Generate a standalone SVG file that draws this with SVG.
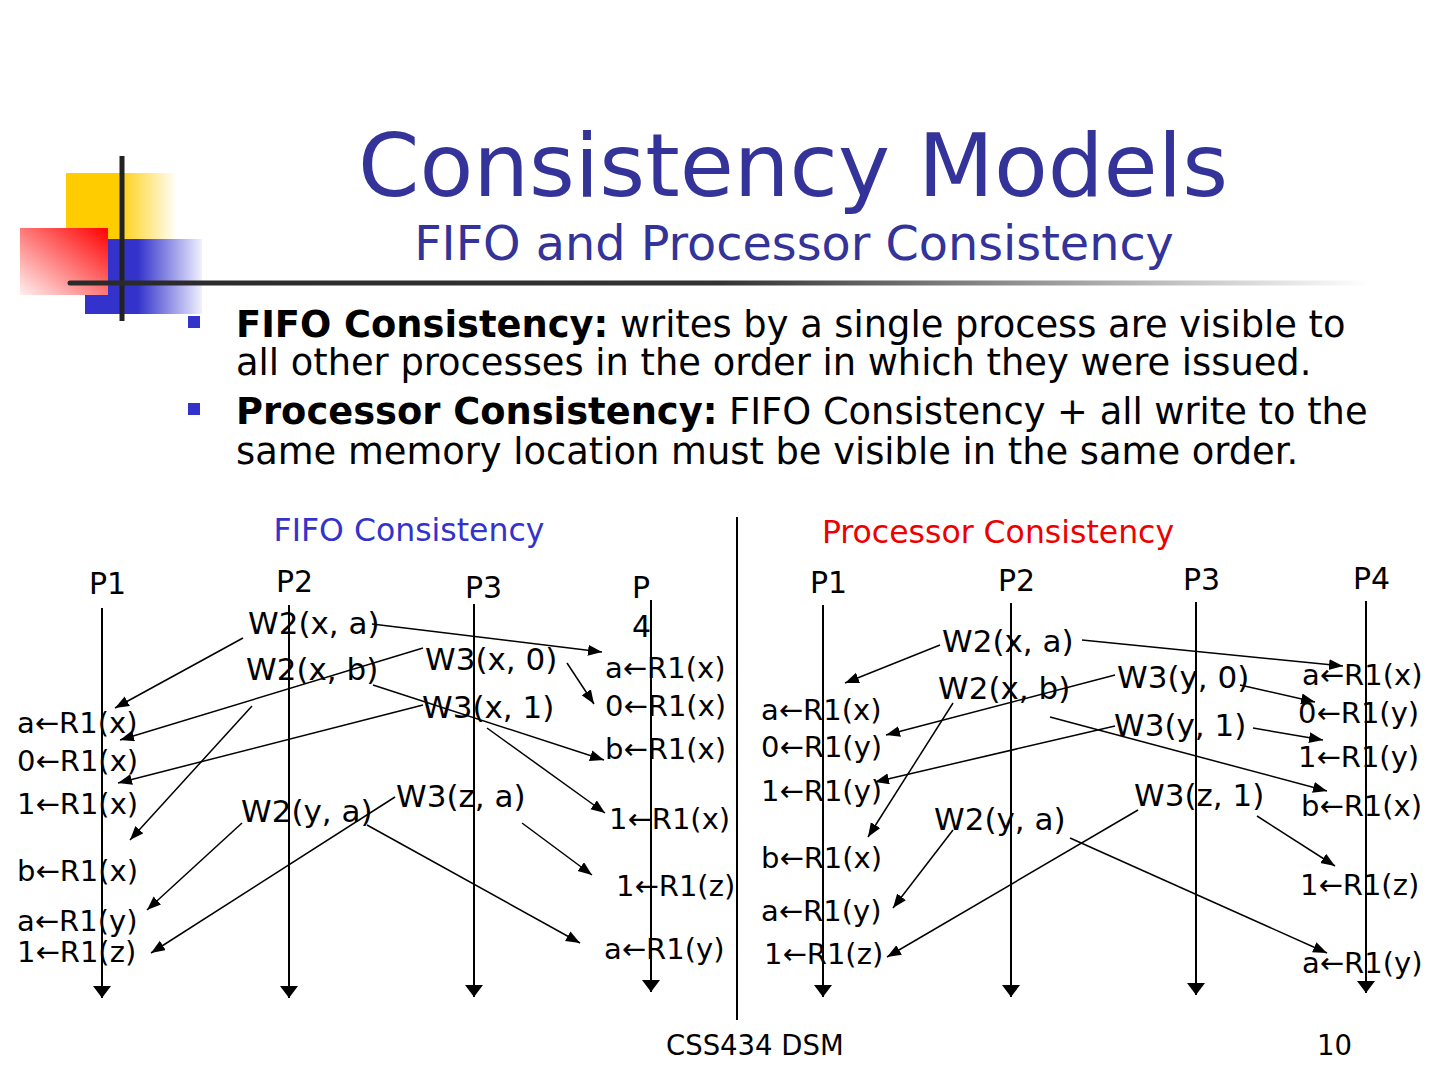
<svg xmlns="http://www.w3.org/2000/svg" width="1440" height="1080" viewBox="0 0 1440 1080">
<style>
text{font-family:"DejaVu Sans","Liberation Sans",sans-serif;fill:#000}
.ttl{fill:#333399}
.b{font-size:36.8px}
.bb{font-weight:bold}
.p{font-size:30px}
.w{font-size:31px}
.r{font-size:29px}
.conn line{stroke:#000;stroke-width:1.5;marker-end:url(#ah)}
.proc line{stroke:#000;stroke-width:2;marker-end:url(#ph)}
</style>
<defs>
<marker id="ah" markerUnits="userSpaceOnUse" markerWidth="16" markerHeight="12" refX="14" refY="5.5" orient="auto"><path d="M0,0 L14,5.5 L0,11 z" fill="#000"/></marker>
<marker id="ph" markerUnits="userSpaceOnUse" markerWidth="20" markerHeight="20" refX="12" refY="9" orient="auto"><path d="M0,0 L12,9 L0,18 z" fill="#000"/></marker>
<linearGradient id="gy" x1="0" y1="0" x2="1" y2="0"><stop offset="0" stop-color="#FFCC00"/><stop offset="0.45" stop-color="#FFCC00"/><stop offset="1" stop-color="#FFFFFF"/></linearGradient>
<linearGradient id="gr" x1="0" y1="1" x2="1" y2="0"><stop offset="0" stop-color="#FFF0F0"/><stop offset="1" stop-color="#FF0000"/></linearGradient>
<linearGradient id="gb" x1="0" y1="0" x2="1" y2="0"><stop offset="0" stop-color="#3333CC"/><stop offset="0.45" stop-color="#3333CC"/><stop offset="1" stop-color="#F0F0FF"/></linearGradient>
<linearGradient id="gl" x1="70" y1="0" x2="1370" y2="0" gradientUnits="userSpaceOnUse"><stop offset="0" stop-color="#2a2a2a"/><stop offset="0.5" stop-color="#333"/><stop offset="1" stop-color="#333" stop-opacity="0"/></linearGradient>
</defs>

<g id="logo">
<rect x="66" y="173" width="111" height="67" fill="url(#gy)"/>
<rect x="85" y="239" width="117" height="75" fill="url(#gb)"/>
<rect x="20" y="228" width="88" height="67" fill="url(#gr)"/>
<line x1="122" y1="156" x2="122" y2="321" stroke="#222" stroke-width="5"/>
<line x1="70" y1="283" x2="1370" y2="283" stroke="url(#gl)" stroke-width="5" stroke-linecap="round"/>
</g>

<g id="title">
<text class="ttl" x="793" y="196" font-size="88" text-anchor="middle">Consistency Models</text>
<text class="ttl" x="794" y="260" font-size="47.7" text-anchor="middle">FIFO and Processor Consistency</text>
</g>

<g id="bullets">
<rect x="188" y="316" width="12" height="12" fill="#3333CC"/>
<rect x="188" y="403" width="12" height="12" fill="#3333CC"/>
<text class="b" x="236" y="337"><tspan class="bb">FIFO Consistency:</tspan> writes by a single process are visible to</text>
<text class="b" x="236" y="375">all other processes in the order in which they were issued.</text>
<text class="b" x="236" y="424"><tspan class="bb">Processor Consistency:</tspan> FIFO Consistency + all write to the</text>
<text class="b" x="236" y="464">same memory location must be visible in the same order.</text>
</g>

<g id="headings">
<text x="409" y="541" font-size="31.5" style="fill:#3333CC" text-anchor="middle">FIFO Consistency</text>
<text x="998" y="543" font-size="31.5" style="fill:#EE0000" text-anchor="middle">Processor Consistency</text>
<line x1="737" y1="517" x2="737" y2="1020" stroke="#000" stroke-width="2"/>
</g>

<g id="fifo-processes" class="proc">
<text class="p" x="89" y="594">P1</text>
<text class="p" x="276" y="592">P2</text>
<text class="p" x="465" y="598">P3</text>
<text class="p" x="632" y="598">P</text>
<text class="p" x="632" y="637">4</text>
<line x1="102" y1="608" x2="102" y2="998"/>
<line x1="289" y1="605" x2="289" y2="998"/>
<line x1="474" y1="604" x2="474" y2="997"/>
<line x1="651" y1="600" x2="651" y2="992"/>
</g>

<g id="fifo-ops">
<text class="w" x="248" y="634">W2(x, a)</text>
<text class="w" x="246" y="680">W2(x, b)</text>
<text class="w" x="425" y="670">W3(x, 0)</text>
<text class="w" x="422" y="718">W3(x, 1)</text>
<text class="w" x="396" y="807">W3(z, a)</text>
<text class="w" x="241" y="822">W2(y, a)</text>
<text class="r" x="17" y="733">a←R1(x)</text>
<text class="r" x="17" y="771">0←R1(x)</text>
<text class="r" x="17" y="814">1←R1(x)</text>
<text class="r" x="17" y="881">b←R1(x)</text>
<text class="r" x="17" y="931">a←R1(y)</text>
<text class="r" x="17" y="962">1←R1(z)</text>
<text class="r" x="605" y="678">a←R1(x)</text>
<text class="r" x="605" y="716">0←R1(x)</text>
<text class="r" x="605" y="759">b←R1(x)</text>
<text class="r" x="609" y="829">1←R1(x)</text>
<text class="r" x="616" y="896">1←R1(z)</text>
<text class="r" x="604" y="959">a←R1(y)</text>
</g>

<g id="proc-processes" class="proc">
<text class="p" x="810" y="593">P1</text>
<text class="p" x="998" y="591">P2</text>
<text class="p" x="1183" y="590">P3</text>
<text class="p" x="1353" y="589">P4</text>
<line x1="823" y1="605" x2="823" y2="997"/>
<line x1="1011" y1="603" x2="1011" y2="997"/>
<line x1="1196" y1="602" x2="1196" y2="995"/>
<line x1="1366" y1="601" x2="1366" y2="993"/>
</g>

<g id="proc-ops">
<text class="w" x="942" y="652">W2(x, a)</text>
<text class="w" x="938" y="699">W2(x, b)</text>
<text class="w" x="1117" y="688">W3(y, 0)</text>
<text class="w" x="1114" y="736">W3(y, 1)</text>
<text class="w" x="1134" y="806">W3(z, 1)</text>
<text class="w" x="934" y="830">W2(y, a)</text>
<text class="r" x="761" y="720">a←R1(x)</text>
<text class="r" x="761" y="757">0←R1(y)</text>
<text class="r" x="761" y="801">1←R1(y)</text>
<text class="r" x="761" y="868">b←R1(x)</text>
<text class="r" x="761" y="921">a←R1(y)</text>
<text class="r" x="764" y="964">1←R1(z)</text>
<text class="r" x="1302" y="685">a←R1(x)</text>
<text class="r" x="1298" y="723">0←R1(y)</text>
<text class="r" x="1298" y="767">1←R1(y)</text>
<text class="r" x="1301" y="816">b←R1(x)</text>
<text class="r" x="1300" y="895">1←R1(z)</text>
<text class="r" x="1302" y="973">a←R1(y)</text>
</g>

<g id="connectors" class="conn">
<line x1="243" y1="638" x2="115" y2="708"/>
<line x1="423" y1="648" x2="120" y2="740"/>
<line x1="423" y1="705" x2="118" y2="783"/>
<line x1="252" y1="706" x2="130" y2="840"/>
<line x1="242" y1="823" x2="147" y2="910"/>
<line x1="395" y1="797" x2="151" y2="953"/>
<line x1="372" y1="624" x2="602" y2="652"/>
<line x1="567" y1="663" x2="594" y2="704"/>
<line x1="373" y1="685" x2="604" y2="760"/>
<line x1="487" y1="728" x2="605" y2="813"/>
<line x1="522" y1="823" x2="592" y2="875"/>
<line x1="367" y1="825" x2="580" y2="943"/>

<line x1="940" y1="645" x2="845" y2="683"/>
<line x1="1082" y1="640" x2="1343" y2="666"/>
<line x1="1115" y1="675" x2="886" y2="735"/>
<line x1="1115" y1="726" x2="875" y2="782"/>
<line x1="953" y1="703" x2="868" y2="837"/>
<line x1="1050" y1="717" x2="1327" y2="791"/>
<line x1="953" y1="830" x2="893" y2="908"/>
<line x1="1138" y1="810" x2="887" y2="957"/>
<line x1="1070" y1="838" x2="1327" y2="953"/>
<line x1="1240" y1="685" x2="1315" y2="702"/>
<line x1="1253" y1="728" x2="1323" y2="740"/>
<line x1="1257" y1="816" x2="1335" y2="866"/>
</g>

<g id="footer">
<text x="666" y="1055" font-size="27.5">CSS434 DSM</text>
<text x="1352" y="1055" font-size="27.5" text-anchor="end">10</text>
</g>
</svg>
